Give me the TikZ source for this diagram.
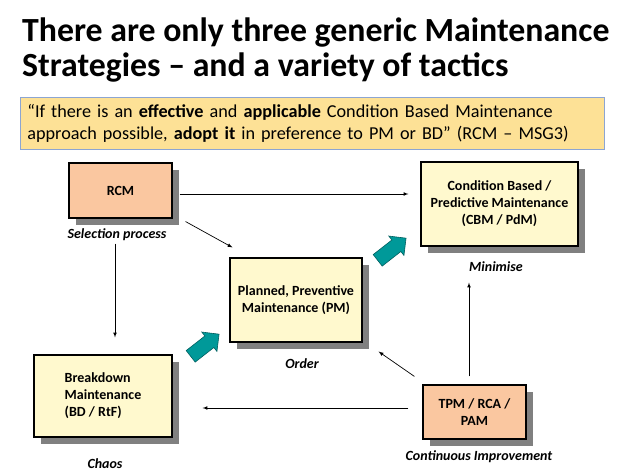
\documentclass[tikz,border=0pt]{standalone}
\usepackage{fontspec}
\setmainfont{Carlito}
\usepackage{tikz}
\usetikzlibrary{arrows,positioning,shapes,shadows}
\definecolor{peach}{RGB}{250,199,160}
\definecolor{cream}{RGB}{255,249,206}
\definecolor{quotefill}{RGB}{253,225,150}
\definecolor{quoteline}{RGB}{140,165,210}
\definecolor{tealarrow}{RGB}{0,153,153}
\definecolor{tealline}{RGB}{0,95,95}
\definecolor{shadowgray}{RGB}{128,128,128}
\newcommand{\titlefont}{\fontsize{33.8}{35}\selectfont\bfseries}

\begin{document}
\begin{tikzpicture}[x=1pt,y=-1pt,
	box/.style={draw=black,line width=1.1pt,inner sep=0pt,align=center,font=\fontsize{14}{17}\selectfont\bfseries,drop shadow={shadow xshift=7pt,shadow yshift=-7pt,fill=shadowgray,opacity=1}},
	tag/.style={font=\fontsize{14}{16}\selectfont\bfseries\itshape},
	quote/.style={draw=quoteline,fill=quotefill,line width=0.8pt,minimum width=584pt,minimum height=52pt,text width=570pt,inner xsep=7pt,align=left,font=\fontsize{18.2}{22}\selectfont},
	conn/.style={-latex,line width=0.7pt},
	push/.style={single arrow,fill=tealarrow,draw=tealline,line width=0.6pt,inner xsep=0pt,inner ysep=7pt,minimum height=36pt,single arrow head extend=5pt,single arrow tip angle=90,rotate=38}]
	\fill[white] (0,0) rectangle (640,476);
	\node[anchor=base west,inner sep=0pt,font=\titlefont] (title) at (22,42) {There are only three generic Maintenance};
	\node[anchor=base west,inner sep=0pt,font=\titlefont] (subtitle) at (22,77) {Strategies – and a variety of tactics};
	\node[quote,anchor=north west] (quote) at (20,97) {“If there is an \textbf{effective} and \textbf{applicable} Condition Based Maintenance\\approach possible, \textbf{adopt it} in preference to PM or BD” (RCM – MSG3)};
	\node[box,fill=peach,minimum width=103pt,minimum height=55pt] (rcm) at (120.5,190.5) {RCM};
	\node[box,fill=cream,minimum width=157pt,minimum height=84pt] (cbm) at (499.5,204) {Condition Based /\\Predictive Maintenance\\(CBM / PdM)};
	\node[box,fill=cream,minimum width=132pt,minimum height=84pt] (pm) at (296,300) {Planned, Preventive\\Maintenance (PM)};
	\node[box,fill=cream,align=left,minimum width=138pt,minimum height=82pt] (bd) at (103,396) {Breakdown\\Maintenance\\(BD / RtF)};
	\node[box,fill=peach,minimum width=103pt,minimum height=54pt] (tpm) at (474.5,412) {TPM / RCA /\\PAM};
	\node[tag] (selection) at (117,235) {Selection process};
	\node[tag] (minimise) at (496,267) {Minimise};
	\node[tag] (order) at (302,364) {Order};
	\node[tag] (chaos) at (105,464) {Chaos};
	\node[tag] (improve) at (479,457) {Continuous Improvement};
	\draw[conn] ([shift={(7,3.5)}]rcm.east) -- ([shift={(-12,-10)}]cbm.west);
	\draw[conn] ([shift={(13,3)}]rcm.south east) -- ([shift={(3,-10)}]pm.north west);
	\draw[conn] ([shift={(-5.5,25)}]rcm.south) -- ([shift={(12,-17)}]bd.north);
	\draw[conn] ([shift={(-14,-4)}]tpm.west) -- ([shift={(30,12)}]bd.east);
	\draw[conn] ([shift={(-8,-8)}]tpm.north west) -- ([shift={(16,9)}]pm.south east);
	\draw[conn] ([shift={(-5.5,-8)}]tpm.north) -- ([shift={(-30.5,36)}]cbm.south);
	\node[push] (push1) at (202,347.5) {};
	\node[push] (push2) at (389,251.5) {};
\end{tikzpicture}
\end{document}
